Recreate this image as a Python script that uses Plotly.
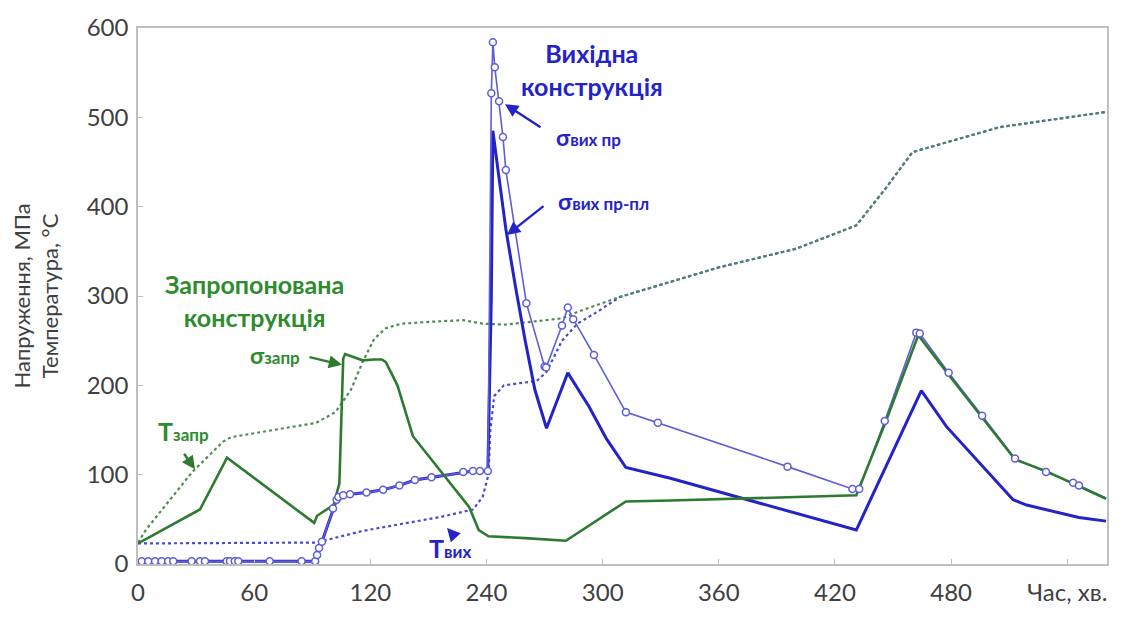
import plotly.graph_objects as go

# ---- time positions (axis units) and values -------------------------------
# Proposed design: stress and temperature
t_sig_zapr = [0, 32, 46, 91, 92.5, 101, 104, 106, 107, 112, 116, 122, 126, 128,
              134, 142, 156, 171, 176, 181, 200, 221, 252, 275, 371, 386, 403,
              419, 453, 469, 500]
sig_zapr = [23, 61, 119, 46, 54, 66, 90, 230, 235, 231, 228, 229, 229, 226,
            200, 143, 105, 64, 38, 31, 29, 26, 70, 71, 77, 158, 256,
            211, 117, 104, 73]

t_T_zapr = [0, 4, 28, 44, 48, 92, 102, 110, 116, 122, 128, 136, 150, 168, 178,
            190, 219, 228, 249, 280, 300, 340, 371, 386, 400, 445, 500]
T_zapr = [24, 38, 103, 137, 142, 158, 170, 195, 226, 252, 264, 269, 271, 273,
          269, 268, 275, 283, 299, 319, 332, 353, 379, 420, 461, 489, 506]

# Original design: temperature
t_T_vyh = [0, 92, 116, 157, 173, 178, 181, 182, 184, 189, 206, 211, 219, 227,
           237, 249, 280, 300, 340, 371, 386, 400, 445, 500]
T_vyh = [23, 24, 37, 53, 61, 75, 100, 150, 188, 200, 205, 215, 250, 269,
         282, 299, 319, 332, 353, 379, 420, 461, 489, 506]

# Original design: stress (with markers)
t_sig_pr = [1.9, 5.3, 8.8, 12.2, 15.6, 18.2, 27.7, 32, 34.6, 45.8, 47.5, 50,
            51.8, 68, 84.5, 91.5, 92.5, 93.5, 95, 100.7, 102.6, 103.5, 106,
            109.5, 118, 126.6, 135, 143, 151.6, 168, 173, 176.6, 180.7,
            182.5, 183.3, 184.3, 186.5, 188.5, 190, 200.6, 210, 210.8, 219,
            222, 224.8, 235.5, 252, 268.5, 335.5, 369, 372.5, 385.7, 402,
            403.8, 418.7, 436, 453, 469, 483, 486]
sig_pr = [3, 3, 3, 3, 3, 3, 3, 3, 3, 3, 3, 3,
          3, 3, 3, 3, 10, 18, 25, 62, 72, 75, 77,
          78, 80, 83, 88, 94, 97, 103, 104, 104, 104,
          527, 584, 556, 518, 478, 441, 292, 221, 220, 267,
          287, 274, 234, 170, 158, 109, 84, 84, 160, 259,
          258, 214, 166, 118, 103, 91, 88]
t_sig_pr_end = 500
sig_pr_end = 74

# Original design: elastic-plastic stress
t_sig_prpl = [0, 91.5, 92.5, 93.5, 95, 100.7, 102.6, 103.5, 106, 109.5, 118,
              126.6, 135, 143, 151.6, 168, 173, 176.6, 180.7, 182.5, 183.3,
              186, 190, 195, 200, 205, 211, 222, 233, 242, 252, 275, 371,
              404.6, 417.5, 452, 459, 486, 500]
sig_prpl = [3, 3, 10, 18, 25, 62, 72, 75, 77, 78, 80,
            83, 88, 94, 97, 103, 104, 104, 104, 300, 485,
            440, 375, 310, 250, 195, 152, 214, 176, 140, 108, 96, 38,
            194, 154, 72, 66, 52, 48]

tick_vals = [0, 60, 120, 180, 240, 300, 360, 420, 480]
tick_text = ["0", "60", "120", "240", "300", "360", "420", "480", "Час, хв."]
y_ticks = [0, 100, 200, 300, 400, 500, 600]

BLUE = "#2323C8"
BLUE_THIN = "#5E5ED8"
GREEN = "#2E7A30"
GREEN_TXT = "#2E8B2E"
GREEN_DOT = "#4E8A55"
BLUE_DOT = "#4A4AD0"
FONT = "Lato"

fig = go.Figure()

fig.add_trace(go.Scatter(x=t_T_vyh, y=T_vyh, mode="lines",
                         line=dict(color=BLUE_DOT, width=2.2, dash="dot")))
fig.add_trace(go.Scatter(x=t_T_zapr, y=T_zapr, mode="lines",
                         line=dict(color=GREEN_DOT, width=2.2, dash="dot")))
fig.add_trace(go.Scatter(x=t_sig_prpl, y=sig_prpl, mode="lines",
                         line=dict(color=BLUE, width=3)))
fig.add_trace(go.Scatter(x=t_sig_pr + [t_sig_pr_end], y=sig_pr + [sig_pr_end],
                         mode="lines", line=dict(color=BLUE_THIN, width=1.6)))
fig.add_trace(go.Scatter(x=t_sig_zapr, y=sig_zapr, mode="lines",
                         line=dict(color=GREEN, width=2.6)))
fig.add_trace(go.Scatter(x=t_sig_pr, y=sig_pr, mode="markers",
                         marker=dict(symbol="circle", size=7, color="white",
                                     line=dict(color=BLUE_THIN, width=1.5))))

# ---- text labels -----------------------------------------------------------
def ptext(px, py, text, color, size, **kw):
    fig.add_annotation(x=(px - 138) / 969, y=(574 - py) / 549, xref="paper",
                       yref="paper", text=text, showarrow=False,
                       font=dict(family=FONT, size=size, color=color),
                       xanchor="center", yanchor="middle", **kw)

ptext(592, 68, "<b>Вихідна<br>конструкція</b>", BLUE, 25)
ptext(254, 304, "<b>Запропонована<br>конструкція</b>", GREEN_TXT, 25)
ptext(588, 137, "<b>σ<span style='font-size:17px'>вих пр</span></b>", BLUE, 23)
ptext(603, 202, "<b>σ<span style='font-size:17px'>вих пр-пл</span></b>", BLUE, 23)
ptext(275, 360, "<b>σ<span style='font-size:17px'>запр</span></b>", GREEN_TXT, 23)
ptext(183, 438, "<b>T<span style='font-size:17px'>запр</span></b>", GREEN_TXT, 25)
ptext(450, 558, "<b>T<span style='font-size:17px'>вих</span></b>", BLUE, 25)

ptext(36, 300, "Напруження, МПа<br>Температура, °C", "#404040", 22,
      textangle=-90)

# ---- arrows ----------------------------------------------------------------
def arrow(hx, hy, ax, ay, color):
    fig.add_annotation(x=(hx - 138) / 969 * 500.5, y=(574 - hy) / 549 * 600,
                       xref="x", yref="y", text="", showarrow=True,
                       ax=ax, ay=ay, arrowhead=2, arrowsize=1.1,
                       arrowwidth=2.4, arrowcolor=color)

arrow(505, 103, 37, 24, BLUE)
arrow(507, 237, 38, -30, BLUE)
arrow(342, 370, -34, -8, GREEN)
arrow(195, 477, -12, -17, GREEN)
arrow(447, 537, 8, 9, BLUE)

axis_common = dict(showgrid=False, zeroline=False, showline=True,
                   linecolor="#BFBFBF", linewidth=1.5, mirror=True,
                   ticks="inside", ticklen=5, tickcolor="#BFBFBF",
                   tickfont=dict(family=FONT, size=24, color="#404040"))

fig.update_xaxes(range=[0, 500.5], tickvals=tick_vals, ticktext=tick_text,
                 ticklabelstandoff=6, **axis_common)
fig.update_yaxes(range=[0, 600], tickvals=y_ticks, ticklabelstandoff=3,
                 **axis_common)

fig.update_layout(width=1127, height=618, showlegend=False,
                  margin=dict(l=138, r=20, t=25, b=44),
                  paper_bgcolor="white", plot_bgcolor="white")

fig.write_html("out.html")
